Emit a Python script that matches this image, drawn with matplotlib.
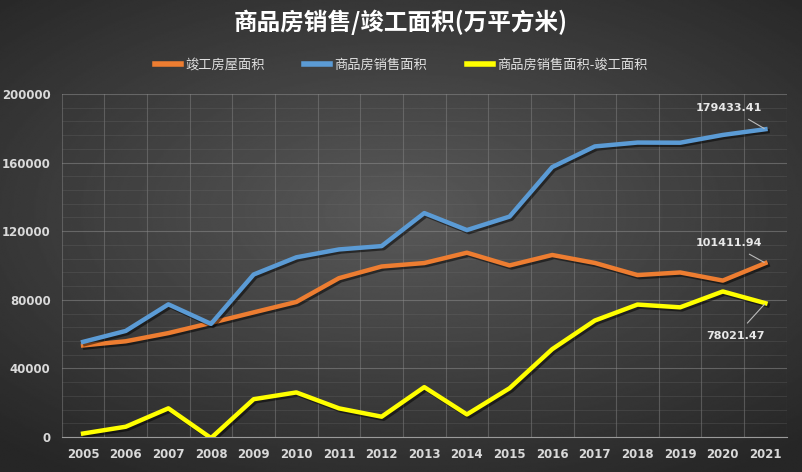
import numpy as np
import matplotlib.pyplot as plt
import matplotlib.patheffects as pe
from matplotlib.ticker import MultipleLocator, FixedLocator

plt.rcParams['font.family'] = ['Noto Sans CJK SC', 'DejaVu Sans']

years = [str(y) for y in range(2005, 2022)]
completed = [53417, 55831, 60607, 66545, 72677, 78744, 92620, 99425, 101435,
             107459, 100039, 106128, 101486, 94421, 95942, 91218, 101411.94]
sold = [55486, 61857, 77355, 65970, 94755, 104765, 109367, 111304, 130551,
        120649, 128495, 157349, 169408, 171654, 171558, 176086, 179433.41]
diff = [2069, 6026, 16748, -575, 22078, 26021, 16747, 11879, 29116,
        13190, 28456, 51221, 67922, 77233, 75616, 84868, 78021.47]

fig = plt.figure(figsize=(8.02, 4.72), dpi=100)

# radial gray background
bg = fig.add_axes([0, 0, 1, 1], zorder=-10)
yy, xx = np.mgrid[-1:1:300j, -1:1:500j]
r = np.sqrt((xx * 0.9) ** 2 + (yy * 1.0 + 0.1) ** 2)
bg.imshow(np.clip(0.35 - 0.15 * r, 0.15, 0.4), cmap='gray', vmin=0, vmax=1,
          aspect='auto', extent=[0, 1, 0, 1], interpolation='bilinear')
bg.axis('off')

ax = fig.add_axes([0.077, 0.074, 0.904, 0.727])
ax.patch.set_alpha(0)
x = np.arange(len(years))

shadow = [pe.SimpleLineShadow(offset=(1.5, -1.5), alpha=0.5, shadow_color='black'), pe.Normal()]
ax.plot(x, completed, color='#ED7D31', lw=3.2, label='竣工房屋面积', path_effects=shadow, zorder=3)
ax.plot(x, sold, color='#5B9BD5', lw=3.2, label='商品房销售面积', path_effects=shadow, zorder=3)
ax.plot(x, diff, color='#FFFF00', lw=3.2, label='商品房销售面积-竣工面积', path_effects=shadow, zorder=3)

ax.set_xlim(-0.5, len(years) - 0.5)
ax.set_ylim(0, 200000)
ax.set_xticks(x)
ax.set_xticklabels(years)
ax.yaxis.set_major_locator(MultipleLocator(40000))
ax.yaxis.set_minor_locator(MultipleLocator(8000))
ax.xaxis.set_minor_locator(FixedLocator(np.arange(-0.5, len(years), 1)))
ax.grid(which='major', axis='y', color='#8a8a8a', lw=0.8, alpha=0.55)
ax.grid(which='minor', axis='y', color='#707070', lw=0.6, alpha=0.3)
ax.grid(which='minor', axis='x', color='#8a8a8a', lw=0.8, alpha=0.45)
ax.tick_params(which='both', length=0)
ax.tick_params(axis='both', colors='#D9D9D9', labelsize=8.5, pad=8)
for lab in ax.get_xticklabels() + ax.get_yticklabels():
    lab.set_fontweight('bold')
    lab.set_family('DejaVu Sans')
for s in ['top', 'right', 'left']:
    ax.spines[s].set_visible(False)
ax.spines['bottom'].set_color('#9a9a9a')

# end labels
last = len(years) - 1
lbl = dict(color='#E8E8E8', fontsize=8, fontweight='bold', family='DejaVu Sans',
           ha='center', va='center')
arrow = dict(arrowstyle='-', color='#BBBBBB', lw=0.8, shrinkA=5, shrinkB=1)
ax.annotate(f'{sold[-1]:.2f}', xy=(last, sold[-1]), xytext=(last - 0.85, 191800),
            arrowprops=arrow, **lbl)
ax.annotate(f'{completed[-1]:.2f}', xy=(last, completed[-1]), xytext=(last - 0.85, 113100),
            arrowprops=arrow, **lbl)
ax.annotate(f'{diff[-1]:.2f}', xy=(last, diff[-1]), xytext=(last - 0.7, 58900),
            arrowprops=arrow, **lbl)

fig.text(0.5, 0.952, '商品房销售/竣工面积(万平方米)', ha='center', va='center',
         color='white', fontsize=17, fontweight='bold')
leg = fig.legend(loc='center', bbox_to_anchor=(0.5, 0.862), ncol=3, frameon=False,
                 fontsize=9.5, handlelength=2.0, columnspacing=3, handletextpad=0.3)
for t in leg.get_texts():
    t.set_color('#E0E0E0')
for h in leg.get_lines():
    h.set_linewidth(4)
    h.set_path_effects([])

fig.savefig('out.png', dpi=100)
